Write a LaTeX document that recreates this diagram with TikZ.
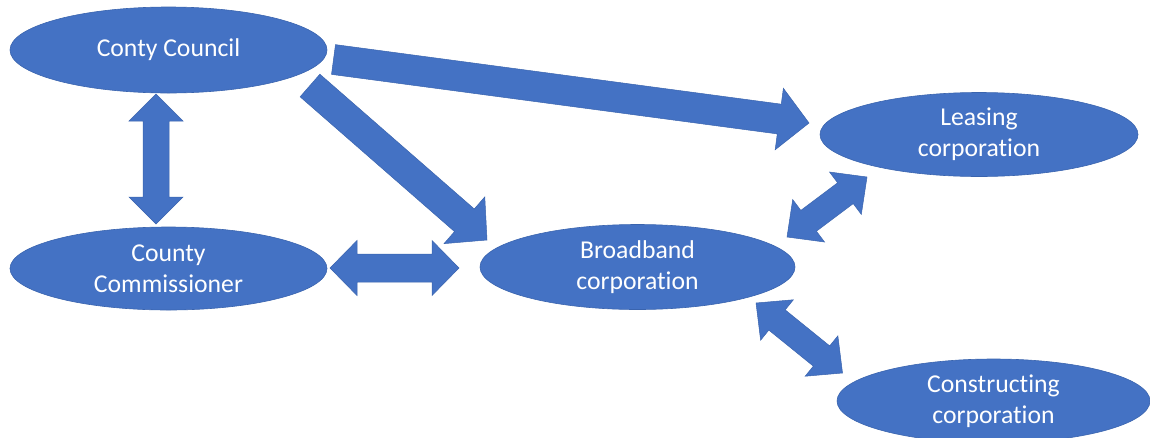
\documentclass[tikz,border=0pt]{standalone}
\usepackage{fontspec}
\setmainfont{Carlito}[Ligatures={NoCommon}]
\usetikzlibrary{shapes.geometric,calc}

\definecolor{boxblue}{HTML}{4472C4}
\definecolor{boxedge}{HTML}{3A64AE}

% Block arrow with one head: from #1 to #2, shaft half-width #3,
% head half-width #4, head length #5
\newcommand\blockarrowone[5]{%
  \path ($(#2)!#5!(#1)$) coordinate (hb);
  \filldraw[flow] ($(#1)!#3!90:(#2)$) -- ($(hb)!#3!90:(#2)$) -- ($(hb)!#4!90:(#2)$)
    -- (#2) -- ($(hb)!#4!-90:(#2)$) -- ($(hb)!#3!-90:(#2)$) -- ($(#1)!#3!-90:(#2)$) -- cycle;}

% Block arrow with heads at both ends
\newcommand\blockarrowtwo[5]{%
  \path ($(#2)!#5!(#1)$) coordinate (hb) ($(#1)!#5!(#2)$) coordinate (ha);
  \filldraw[flow] (#1) -- ($(ha)!#4!90:(#2)$) -- ($(ha)!#3!90:(#2)$) -- ($(hb)!#3!90:(#2)$)
    -- ($(hb)!#4!90:(#2)$) -- (#2) -- ($(hb)!#4!-90:(#2)$) -- ($(hb)!#3!-90:(#2)$)
    -- ($(ha)!#3!-90:(#2)$) -- ($(ha)!#4!-90:(#2)$) -- cycle;}

\begin{document}
\begin{tikzpicture}[x=1pt,y=-1pt,
  party/.style={ellipse, fill=boxblue, draw=boxedge, line width=0.6pt,
    inner sep=0pt, text=white, align=center,
    font=\fontsize{25.7}{31}\selectfont},
  flow/.style={fill=boxblue, draw=boxedge, line width=0.5pt, line join=miter}]
\useasboundingbox (0,0) rectangle (1150,437);
\clip (0,0) rectangle (1150,437);

% organisations
\node[party, minimum width=317pt, minimum height=86pt] (council) at (168.5,50) {Conty Council};
\node[party, minimum width=317pt, minimum height=83pt] (commissioner) at (168.5,268.5) {County\\Commissioner};
\node[party, minimum width=315pt, minimum height=85pt] (broadband) at (637.5,267) {Broadband\\corporation};
\node[party, minimum width=318pt, minimum height=84pt] (leasing) at (979,134.5) {Leasing\\corporation};
\node[party, minimum width=313pt, minimum height=84pt] (constructing) at (993.5,401) {Constructing\\corporation};

% arrow end points
\coordinate (ccTop) at (156,94);
\coordinate (cmTop) at (156,224);
\coordinate (cmRight) at (330,268);
\coordinate (bbLeft) at (459,268);
\coordinate (ccDiag) at (310,85.5);
\coordinate (bbDiag) at (487,240);
\coordinate (ccRight) at (333.5,59.5);
\coordinate (lsLeft) at (809,123);
\coordinate (bbUpper) at (787,237);
\coordinate (lsLower) at (867,177);
\coordinate (bbLower) at (756,303);
\coordinate (csUpper) at (842.5,373);

% relations
\blockarrowtwo{ccTop}{cmTop}{13pt}{27pt}{27pt}
\blockarrowtwo{cmRight}{bbLeft}{14pt}{27.5pt}{27pt}
\blockarrowone{ccDiag}{bbDiag}{15pt}{31pt}{30pt}
\blockarrowone{ccRight}{lsLeft}{15pt}{31pt}{30pt}
\blockarrowtwo{bbUpper}{lsLower}{13pt}{26.5pt}{27pt}
\blockarrowtwo{bbLower}{csUpper}{13pt}{26pt}{27pt}
\end{tikzpicture}
\end{document}
